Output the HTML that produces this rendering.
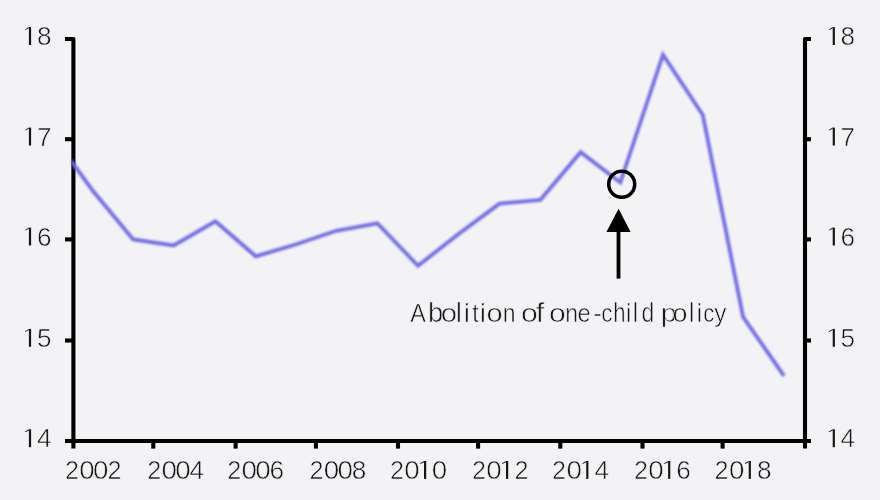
<!DOCTYPE html>
<html>
<head>
<meta charset="utf-8">
<title>Chart</title>
<style>
  html, body { margin: 0; padding: 0; background: #f3f3f6; }
  body { width: 880px; height: 500px; overflow: hidden; font-family: "Liberation Sans", sans-serif; }
  svg { display: block; }
  text { font-family: "Liberation Sans", sans-serif; fill: #161616; stroke: #f3f3f6; stroke-width: 0.55px; }
  .d { font-size: 26.2px; text-anchor: middle; }
  .one rect, .one path { fill: #161616; }
</style>
</head>
<body>
<svg width="880" height="500" viewBox="0 0 880 500">
  <defs>
    <filter id="soft" x="-5%" y="-5%" width="110%" height="110%">
      <feGaussianBlur stdDeviation="0.65"/>
    </filter>
    <filter id="tsoft" x="-5%" y="-5%" width="110%" height="110%">
      <feGaussianBlur stdDeviation="0.6"/>
    </filter>
    <filter id="lsoft" x="-5%" y="-5%" width="110%" height="110%">
      <feGaussianBlur stdDeviation="1.0"/>
    </filter>
    <clipPath id="plot"><rect x="71.6" y="0" width="740" height="500"/></clipPath>
  </defs>
  <rect x="0" y="0" width="880" height="500" fill="#f3f3f6"/>
  <g filter="url(#soft)">
    <g stroke="#000" stroke-width="4.1" fill="none" stroke-linejoin="round">
      <path d="M65,39 H73.4 V448.6"/>
      <path d="M811,39 H805 V448.6"/>
      <line x1="65" y1="441" x2="811" y2="441"/>
      <line x1="65" y1="139.2" x2="73.4" y2="139.2"/>
      <line x1="805" y1="139.2" x2="811" y2="139.2"/>
      <line x1="65" y1="239.4" x2="73.4" y2="239.4"/>
      <line x1="805" y1="239.4" x2="811" y2="239.4"/>
      <line x1="65" y1="340.5" x2="73.4" y2="340.5"/>
      <line x1="805" y1="340.5" x2="811" y2="340.5"/>
      <line x1="153.3" y1="441" x2="153.3" y2="448.6"/>
      <line x1="235.6" y1="441" x2="235.6" y2="448.6"/>
      <line x1="315.9" y1="441" x2="315.9" y2="448.6"/>
      <line x1="398" y1="441" x2="398" y2="448.6"/>
      <line x1="478.1" y1="441" x2="478.1" y2="448.6"/>
      <line x1="560.3" y1="441" x2="560.3" y2="448.6"/>
      <line x1="642.5" y1="441" x2="642.5" y2="448.6"/>
      <line x1="722.6" y1="441" x2="722.6" y2="448.6"/>
    </g>
  </g>
  <g filter="url(#lsoft)">
    <g clip-path="url(#plot)"><polyline fill="none" stroke="#736de9" stroke-width="3.8" stroke-linejoin="miter" stroke-linecap="butt" points="51.7,134.3 93.2,191.3 133.2,239.5 173.7,245.5 215.4,221.3 255.8,256.3 295.6,244.5 336.3,230.8 377.3,223.3 418,265.8 458.2,234.3 499.5,203.7 540.3,199.9 580.6,152.2 620.3,182.5 663,54.7 702.8,115 743.1,317 784,375.9"/></g>
  </g>
  <g filter="url(#soft)">
    <circle cx="621.7" cy="184.3" r="13" fill="none" stroke="#000" stroke-width="3.5"/>
    <line x1="618.5" y1="230" x2="618.5" y2="278.6" stroke="#000" stroke-width="3.8"/>
    <polygon points="618.6,208.7 606.4,232 630.6,232" fill="#000"/>
  </g>
  <g filter="url(#tsoft)">
    <g class="one" transform="translate(30,45)"><rect x="-1.1" y="-17.9" width="2.2" height="17.9"/><path d="M-1.1,-17.9 L-5.0,-15.6 L-4.7,-14.9 L-1.1,-16.7 Z"/></g>
    <text class="d" x="44.4" y="45">8</text>
    <g class="one" transform="translate(833.8,45)"><rect x="-1.1" y="-17.9" width="2.2" height="17.9"/><path d="M-1.1,-17.9 L-5.0,-15.6 L-4.7,-14.9 L-1.1,-16.7 Z"/></g>
    <text class="d" x="847.8" y="45">8</text>
    <g class="one" transform="translate(30,145.5)"><rect x="-1.1" y="-17.9" width="2.2" height="17.9"/><path d="M-1.1,-17.9 L-5.0,-15.6 L-4.7,-14.9 L-1.1,-16.7 Z"/></g>
    <text class="d" x="44.4" y="145.5">7</text>
    <g class="one" transform="translate(833.8,145.5)"><rect x="-1.1" y="-17.9" width="2.2" height="17.9"/><path d="M-1.1,-17.9 L-5.0,-15.6 L-4.7,-14.9 L-1.1,-16.7 Z"/></g>
    <text class="d" x="847.8" y="145.5">7</text>
    <g class="one" transform="translate(30,245.5)"><rect x="-1.1" y="-17.9" width="2.2" height="17.9"/><path d="M-1.1,-17.9 L-5.0,-15.6 L-4.7,-14.9 L-1.1,-16.7 Z"/></g>
    <text class="d" x="44.4" y="245.5">6</text>
    <g class="one" transform="translate(833.8,245.5)"><rect x="-1.1" y="-17.9" width="2.2" height="17.9"/><path d="M-1.1,-17.9 L-5.0,-15.6 L-4.7,-14.9 L-1.1,-16.7 Z"/></g>
    <text class="d" x="847.8" y="245.5">6</text>
    <g class="one" transform="translate(30,346.8)"><rect x="-1.1" y="-17.9" width="2.2" height="17.9"/><path d="M-1.1,-17.9 L-5.0,-15.6 L-4.7,-14.9 L-1.1,-16.7 Z"/></g>
    <text class="d" x="44.4" y="346.8">5</text>
    <g class="one" transform="translate(833.8,346.8)"><rect x="-1.1" y="-17.9" width="2.2" height="17.9"/><path d="M-1.1,-17.9 L-5.0,-15.6 L-4.7,-14.9 L-1.1,-16.7 Z"/></g>
    <text class="d" x="847.8" y="346.8">5</text>
    <g class="one" transform="translate(30,447.2)"><rect x="-1.1" y="-17.9" width="2.2" height="17.9"/><path d="M-1.1,-17.9 L-5.0,-15.6 L-4.7,-14.9 L-1.1,-16.7 Z"/></g>
    <text class="d" x="44.4" y="447.2">4</text>
    <g class="one" transform="translate(833.8,447.2)"><rect x="-1.1" y="-17.9" width="2.2" height="17.9"/><path d="M-1.1,-17.9 L-5.0,-15.6 L-4.7,-14.9 L-1.1,-16.7 Z"/></g>
    <text class="d" x="847.8" y="447.2">4</text>
    <text class="d" transform="translate(71.9,478.9) scale(0.96,1)">2</text>
    <text class="d" transform="translate(86.9,478.9) scale(1.06,1)">0</text>
    <text class="d" transform="translate(100.6,478.9) scale(1.06,1)">0</text>
    <text class="d" transform="translate(114.5,478.9) scale(0.96,1)">2</text>
    <text class="d" transform="translate(154.15,478.9) scale(0.96,1)">2</text>
    <text class="d" transform="translate(169.15,478.9) scale(1.06,1)">0</text>
    <text class="d" transform="translate(182.85,478.9) scale(1.06,1)">0</text>
    <text class="d" x="196.75" y="478.9">4</text>
    <text class="d" transform="translate(234.3,478.9) scale(0.96,1)">2</text>
    <text class="d" transform="translate(249.3,478.9) scale(1.06,1)">0</text>
    <text class="d" transform="translate(263,478.9) scale(1.06,1)">0</text>
    <text class="d" x="276.9" y="478.9">6</text>
    <text class="d" transform="translate(316.5,478.9) scale(0.96,1)">2</text>
    <text class="d" transform="translate(331.5,478.9) scale(1.06,1)">0</text>
    <text class="d" transform="translate(345.2,478.9) scale(1.06,1)">0</text>
    <text class="d" x="359.1" y="478.9">8</text>
    <text class="d" transform="translate(396.9,478.9) scale(0.96,1)">2</text>
    <text class="d" transform="translate(411.9,478.9) scale(1.06,1)">0</text>
    <g class="one" transform="translate(425.1,478.9)"><rect x="-1.1" y="-17.9" width="2.2" height="17.9"/><path d="M-1.1,-17.9 L-5.0,-15.6 L-4.7,-14.9 L-1.1,-16.7 Z"/></g>
    <text class="d" transform="translate(439.5,478.9) scale(1.06,1)">0</text>
    <text class="d" transform="translate(478.9,478.9) scale(0.96,1)">2</text>
    <text class="d" transform="translate(493.9,478.9) scale(1.06,1)">0</text>
    <g class="one" transform="translate(507.1,478.9)"><rect x="-1.1" y="-17.9" width="2.2" height="17.9"/><path d="M-1.1,-17.9 L-5.0,-15.6 L-4.7,-14.9 L-1.1,-16.7 Z"/></g>
    <text class="d" transform="translate(521.5,478.9) scale(0.96,1)">2</text>
    <text class="d" transform="translate(559.1,478.9) scale(0.96,1)">2</text>
    <text class="d" transform="translate(574.1,478.9) scale(1.06,1)">0</text>
    <g class="one" transform="translate(587.3,478.9)"><rect x="-1.1" y="-17.9" width="2.2" height="17.9"/><path d="M-1.1,-17.9 L-5.0,-15.6 L-4.7,-14.9 L-1.1,-16.7 Z"/></g>
    <text class="d" x="601.7" y="478.9">4</text>
    <text class="d" transform="translate(641,478.9) scale(0.96,1)">2</text>
    <text class="d" transform="translate(656,478.9) scale(1.06,1)">0</text>
    <g class="one" transform="translate(669.2,478.9)"><rect x="-1.1" y="-17.9" width="2.2" height="17.9"/><path d="M-1.1,-17.9 L-5.0,-15.6 L-4.7,-14.9 L-1.1,-16.7 Z"/></g>
    <text class="d" x="683.6" y="478.9">6</text>
    <text class="d" transform="translate(721.6,478.9) scale(0.96,1)">2</text>
    <text class="d" transform="translate(736.6,478.9) scale(1.06,1)">0</text>
    <g class="one" transform="translate(749.8,478.9)"><rect x="-1.1" y="-17.9" width="2.2" height="17.9"/><path d="M-1.1,-17.9 L-5.0,-15.6 L-4.7,-14.9 L-1.1,-16.7 Z"/></g>
    <text class="d" x="764.2" y="478.9">8</text>
    <g font-size="26" text-anchor="start">
      <text transform="translate(410.25,322.4) scale(0.901,1)">A</text>
      <text transform="translate(428.01,322.4) scale(1.054,1.05)">b</text>
      <text transform="translate(440.68,322.4) scale(1.130,1)">o</text>
      <text transform="translate(456.09,322.4) scale(1.000,1.05)">l</text>
      <text transform="translate(463.89,322.4) scale(1.000,1)">i</text>
      <text transform="translate(472.32,322.4) scale(0.892,1)">t</text>
      <text transform="translate(480.09,322.4) scale(1.000,1)">i</text>
      <text transform="translate(486.59,322.4) scale(1.114,1)">o</text>
      <text transform="translate(502.67,322.4) scale(0.883,1)">n</text>
      <text transform="translate(520.94,322.4) scale(1.162,1)">o</text>
      <text transform="translate(535.75,322.4) scale(1.180,1.05)">f</text>
      <text transform="translate(549.04,322.4) scale(1.162,1)">o</text>
      <text transform="translate(565.17,322.4) scale(0.883,1)">n</text>
      <text transform="translate(577.40,322.4) scale(0.913,1)">e</text>
      <text transform="translate(593.21,322.4) scale(1.000,1)">-</text>
      <text transform="translate(601.25,322.4) scale(0.865,1)">c</text>
      <text transform="translate(613.26,322.4) scale(0.850,1.05)">h</text>
      <text transform="translate(625.79,322.4) scale(1.000,1)">i</text>
      <text transform="translate(632.44,322.4) scale(1.000,1.05)">l</text>
      <text transform="translate(641.43,322.4) scale(0.886,1.05)">d</text>
      <text transform="translate(660.80,322.4) scale(1.120,1)">p</text>
      <text transform="translate(672.57,322.4) scale(1.034,1)">o</text>
      <text transform="translate(688.64,322.4) scale(1.000,1.05)">l</text>
      <text transform="translate(696.49,322.4) scale(1.000,1)">i</text>
      <text transform="translate(703.35,322.4) scale(0.850,1)">c</text>
      <text transform="translate(714.35,322.4) scale(0.938,1)">y</text>
    </g>
  </g>
</svg>
</body>
</html>
